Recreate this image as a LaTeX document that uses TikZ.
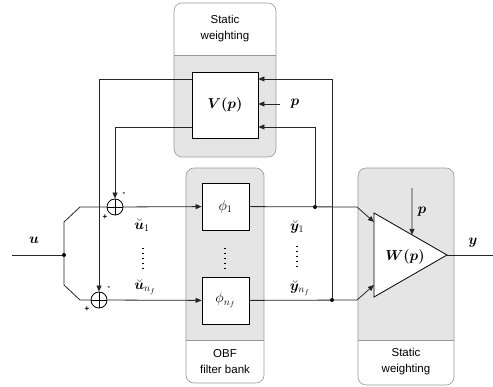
\documentclass[tikz,border=0pt]{standalone}
\usepackage{amsmath}
\usepackage{bm}
\usepackage{fontspec}
\setsansfont{Liberation Sans}
\usetikzlibrary{arrows.meta,calc}
\begin{document}
\begin{tikzpicture}[x=1pt,y=-1pt,
  line/.style={draw=black!85, line width=0.8pt},
  arr/.style={line, -{Triangle[length=6pt,width=5pt]}},
  blk/.style={draw, fill=white, line width=0.8pt, minimum width=66pt, minimum height=66pt, inner sep=0pt},
  phibox/.style={draw, fill=white, line width=0.8pt, minimum width=47pt, minimum height=47pt, inner sep=0pt},
  dot/.style={circle, fill, inner sep=0pt, minimum size=4pt},
  sumnode/.style={circle, draw, line width=0.8pt, fill=white, minimum size=16pt, inner sep=0pt,
    path picture={\draw[line width=0.8pt] (path picture bounding box.north) -- (path picture bounding box.south)
      (path picture bounding box.west) -- (path picture bounding box.east);}},
  paneltext/.style={font=\sffamily\fontsize{11.5}{16}\selectfont, align=center},
  ml/.style={font=\fontsize{14}{16}\selectfont},
  bl/.style={font=\fontsize{15}{17}\selectfont},
  sgn/.style={font=\sffamily\bfseries\fontsize{8}{9}\selectfont, inner sep=0pt},
  panelborder/.style={draw=black!40, line width=0.6pt},
  dotsline/.style={line width=1.3pt, dash pattern=on 1.3pt off 3.6pt}]
\fill[white] (0,0) rectangle (493,387);
\useasboundingbox (0,0) rectangle (493,387);

% top panel
\begin{scope}
\clip[rounded corners=8pt] (174,3) rectangle (276,157);
\fill[white] (174,3) rectangle (276,55);
\fill[black!10] (174,55) rectangle (276,157);
\end{scope}
\draw[panelborder, rounded corners=8pt] (174,3) rectangle (276,157);
\draw[panelborder] (174,55) -- (276,55);
\node[paneltext] (t1) at (225,29) {Static\\weighting};

% OBF panel
\begin{scope}
\clip[rounded corners=8pt] (186,168) rectangle (264,383);
\fill[black!10] (186,168) rectangle (264,340);
\fill[white] (186,340) rectangle (264,383);
\end{scope}
\draw[panelborder, rounded corners=8pt] (186,168) rectangle (264,383);
\draw[panelborder] (186,340) -- (264,340);
\node[paneltext] (t2) at (225,362) {OBF\\filter bank};

% right panel
\begin{scope}
\clip[rounded corners=8pt] (358,168) rectangle (454,385);
\fill[black!10] (358,168) rectangle (454,340);
\fill[white] (358,340) rectangle (454,385);
\end{scope}
\draw[panelborder, rounded corners=8pt] (358,168) rectangle (454,385);
\draw[panelborder] (358,340) -- (454,340);
\node[paneltext] (t3) at (406,362) {Static\\weighting};

% blocks
\node[blk, bl] (V) at (225,105) {$\bm{V(p)}$};
\node[phibox, ml] (phi1) at (225.5,206.5) {$\phi_1$};
\node[phibox, ml] (phin) at (225.5,300.5) {$\phi_{n_f}$};
\node[sumnode] (S1) at (115,207) {};
\node[sumnode] (Sn) at (99,300) {};
\node[dot] (J) at (64,255) {};
\node[dot] (D1) at (315,207) {};
\node[dot] (Dn) at (332,300) {};

% triangle W
\coordinate (Wt) at (374,213);
\coordinate (Wb) at (374,297);
\coordinate (Wa) at (447,255);
\draw[line width=0.8pt, fill=white] (Wt) -- (Wa) -- (Wb) -- cycle;
\node[bl] (Wl) at (405,257) {$\bm{W(p)}$};

% input
\coordinate (uin) at (12,255);
\coordinate (yout) at (493,255);
\draw[line] (uin) -- (J);
\node[ml] (ul) at (34,240) {$\bm{u}$};
\draw[line] (J) -- (64,222) -- (80,207) -- (S1);
\draw[line] (J) -- (64,285) -- (80,300) -- (Sn);
\draw[arr] (S1) -- (phi1);
\draw[arr] (Sn) -- (phin);

% outputs of filter bank
\draw[arr] (phi1) -- (357,207) -- ($(Wt)!0.107!(Wb)$);
\draw[arr] (phin) -- (357,300) -- ($(Wt)!0.857!(Wb)$);

% feedback to V
\draw[arr] (D1) |- ([yshift=-22pt]V.east);
\draw[arr] (Dn) |- ([yshift=26pt]V.east);
\coordinate (pV) at (280,104);
\draw[arr] (pV) -- ([yshift=1pt]V.east);
\node[ml] (pVl) at (295,104) {$\bm{p}$};

% V outputs to summers
\draw[arr] ([yshift=26pt]V.west) -| (Sn);
\draw[arr] ([yshift=-22pt]V.west) -| (S1);

% summer signs
\node[sgn] (m1) at (124,194) {-};
\node[sgn] (p1) at (105,217) {+};
\node[sgn] (m2) at (109,288) {-};
\node[sgn] (p2) at (87,309) {+};

% W inputs
\coordinate (pW) at (412,188);
\draw[arr] (pW) -- ($(Wt)!0.5205!(Wa)$);
\node[ml] (pWl) at (422,212) {$\bm{p}$};
\draw[line] (Wa) -- (yout);
\node[ml] (yl) at (473,243) {$\bm{y}$};

% signal labels
\node[ml] (u1) at (142,225) {$\breve{\bm{u}}_1$};
\node[ml] (un) at (145,287) {$\breve{\bm{u}}_{n_f}$};
\node[ml] (y1) at (297,227) {$\breve{\bm{y}}_1$};
\node[ml] (yn) at (300,288) {$\breve{\bm{y}}_{n_f}$};

% vertical dots
\draw[dotsline] (143,248) -- (143,268);
\draw[dotsline] (225,248) -- (225,268);
\draw[dotsline] (297,246) -- (297,266);
\end{tikzpicture}
\end{document}
